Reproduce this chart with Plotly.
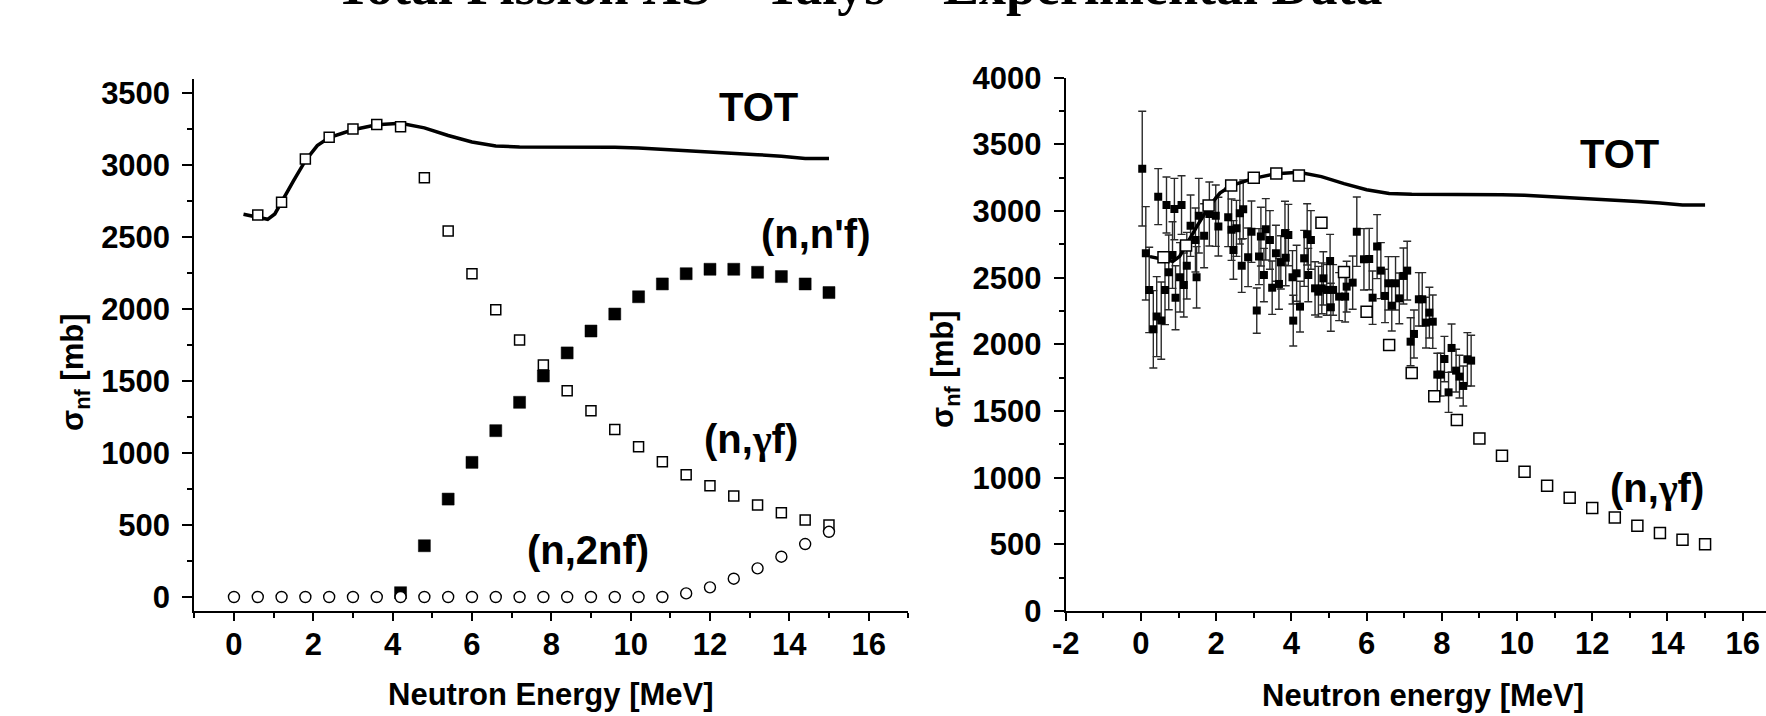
import plotly.graph_objects as go

W, H = 1766, 716

# ---------------- data ----------------
# Talys total fission (line)
tot_E = [0.24, 0.6, 0.85, 1.03, 1.2, 1.5, 1.8, 2.1, 2.4, 3.0, 3.6, 4.2, 4.8, 5.4, 6.0, 6.6,
         7.2, 7.8, 8.4, 9.0, 9.6, 10.2, 10.8, 11.4, 12.0, 12.6, 13.2, 13.8, 14.4, 15.0]
tot_s = [2658, 2635, 2623, 2660, 2745, 2890, 3030, 3135, 3190, 3245, 3280, 3290, 3258, 3205, 3160, 3132,
         3125, 3125, 3125, 3125, 3123, 3118, 3110, 3100, 3092, 3081, 3072, 3060, 3046, 3046]

# (n,gamma f) open squares
ngf_E = [0.6, 1.2, 1.8, 2.4, 3.0, 3.6, 4.2, 4.8, 5.4, 6.0, 6.6, 7.2, 7.8, 8.4, 9.0, 9.6,
         10.2, 10.8, 11.4, 12.0, 12.6, 13.2, 13.8, 14.4, 15.0]
ngf_s = [2653, 2741, 3042, 3192, 3250, 3282, 3266, 2912, 2542, 2245, 1995, 1785, 1611, 1433, 1294, 1164,
         1044, 940, 849, 773, 701, 639, 585, 535, 500]

# (n,n'f) filled squares
nnf_E = [4.2, 4.8, 5.4, 6.0, 6.6, 7.2, 7.8, 8.4, 9.0, 9.6, 10.2, 10.8, 11.4, 12.0, 12.6, 13.2, 13.8, 14.4, 15.0]
nnf_s = [30, 356, 680, 935, 1155, 1352, 1535, 1695, 1847, 1965, 2085, 2174, 2245, 2276, 2276, 2255, 2225, 2174, 2114]

# (n,2nf) open circles
n2nf_E = [0.0, 0.6, 1.2, 1.8, 2.4, 3.0, 3.6, 4.2, 4.8, 5.4, 6.0, 6.6, 7.2, 7.8, 8.4, 9.0, 9.6,
          10.2, 10.8, 11.4, 12.0, 12.6, 13.2, 13.8, 14.4, 15.0]
n2nf_s = [0, 0, 0, 0, 0, 0, 0, 0, 0, 0, 0, 0, 0, 0, 0, 0, 0,
          0, 0, 25, 67, 127, 199, 280, 368, 453]

# experimental data (filled squares with error bars)
exp_E = [0.035, 0.13, 0.22, 0.33, 0.42, 0.46, 0.54, 0.64, 0.68, 0.74, 0.84, 0.89, 0.92, 1.04, 1.08,
         1.14, 1.22, 1.32, 1.45, 1.48, 1.54, 1.68, 1.82, 1.99, 2.06, 2.32, 2.41, 2.46, 2.54, 2.63,
         2.68, 2.72, 2.85, 2.94, 3.08, 3.14, 3.19, 3.27, 3.32, 3.43, 3.49, 3.59, 3.67, 3.72, 3.83,
         3.85, 3.92, 4.03, 4.05, 4.14, 4.23, 4.34, 4.42, 4.45, 4.52, 4.63, 4.72, 4.81, 4.85, 4.94,
         5.03, 5.05, 5.11, 5.27, 5.43, 5.47, 5.63, 5.74, 5.93, 6.07, 6.16, 6.28, 6.38, 6.49, 6.58,
         6.67, 6.77, 6.87, 6.98, 7.08, 7.17, 7.26, 7.39, 7.48, 7.58, 7.67, 7.76, 7.88, 7.97, 8.07,
         8.18, 8.26, 8.38, 8.47, 8.57, 8.68, 8.78]
exp_s = [3318, 2683, 2408, 2113, 2208, 3108, 2178, 2408, 3045, 2540, 2670, 3015, 2350, 2503, 3045,
         2445, 2590, 2890, 2783, 2503, 2965, 2815, 2978, 2965, 2883, 2953, 2860, 2708, 2870, 2983,
         2590, 3013, 2653, 2845, 2253, 2658, 2808, 2520, 2863, 2783, 2425, 2683, 2453, 2615, 2833,
         2650, 2820, 2503, 2178, 2533, 2283, 2645, 2825, 2520, 2783, 2420, 2395, 2420, 2495, 2408,
         2625, 2278, 2408, 2358, 2358, 2433, 2463, 2845, 2638, 2640, 2350, 2733, 2553, 2363, 2458,
         2290, 2458, 2345, 2513, 2553, 2020, 2078, 2338, 2338, 2163, 2238, 2170, 1773, 1773, 1890,
         1640, 1973, 1803, 1758, 1688, 1888, 1878]
exp_err = [430, 350, 320, 290, 300, 210, 290, 260, 210, 280, 250, 230, 240, 260, 220,
           240, 250, 230, 240, 230, 280, 240, 240, 230, 220, 220, 230, 220, 210, 230,
           200, 220, 220, 230, 170, 210, 220, 200, 230, 220, 200, 210, 190, 200, 240,
           210, 230, 200, 190, 210, 190, 210, 230, 200, 220, 200, 190, 190, 200, 190,
           200, 180, 190, 180, 190, 190, 200, 260, 230, 230, 200, 240, 210, 200, 200,
           190, 200, 190, 210, 220, 180, 180, 200, 200, 190, 190, 200, 160, 160, 170,
           150, 180, 160, 160, 150, 200, 190]

left_yticks = [0, 500, 1000, 1500, 2000, 2500, 3000, 3500]
right_yticks = [0, 500, 1000, 1500, 2000, 2500, 3000, 3500, 4000]
left_xticks = [0, 2, 4, 6, 8, 10, 12, 14, 16]
right_xticks = [-2, 0, 2, 4, 6, 8, 10, 12, 14, 16]

# ---------------- figure ----------------
FONT = "Liberation Sans, Arial, sans-serif"
fig = go.Figure()

# left panel
fig.add_trace(go.Scatter(x=tot_E, y=tot_s, mode="lines", line=dict(color="black", width=3.5),
                         xaxis="x", yaxis="y", showlegend=False))
fig.add_trace(go.Scatter(x=ngf_E, y=ngf_s, mode="markers", xaxis="x", yaxis="y", showlegend=False,
                         marker=dict(symbol="square", size=10, color="white",
                                     line=dict(color="black", width=1.5))))
fig.add_trace(go.Scatter(x=nnf_E, y=nnf_s, mode="markers", xaxis="x", yaxis="y", showlegend=False,
                         marker=dict(symbol="square", size=12, color="black",
                                     line=dict(color="black", width=0.5))))
fig.add_trace(go.Scatter(x=n2nf_E, y=n2nf_s, mode="markers", xaxis="x", yaxis="y", showlegend=False,
                         marker=dict(symbol="circle", size=11, color="white",
                                     line=dict(color="black", width=1.4))))

# right panel
fig.add_trace(go.Scatter(x=exp_E, y=exp_s, mode="markers", xaxis="x2", yaxis="y2", showlegend=False,
                         error_y=dict(type="data", array=exp_err, visible=True, color="#2a2a2a",
                                      thickness=1.4, width=4),
                         marker=dict(symbol="square", size=8, color="black")))
fig.add_trace(go.Scatter(x=tot_E, y=tot_s, mode="lines", line=dict(color="black", width=3.5),
                         xaxis="x2", yaxis="y2", showlegend=False))
fig.add_trace(go.Scatter(x=ngf_E, y=ngf_s, mode="markers", xaxis="x2", yaxis="y2", showlegend=False,
                         marker=dict(symbol="square", size=11, color="white",
                                     line=dict(color="black", width=1.5))))

def px_x(p):
    return p / W

def px_y(p):
    return 1 - p / H

tickfont = dict(family=FONT, size=31, color="black", weight="bold")

def axis(domain, rng, tickvals, ticklen, minor_dtick, minor_len, anchor, standoff, ticktext=None):
    d = dict(domain=domain, range=rng, showline=True, linecolor="black", linewidth=2,
             ticks="outside", ticklen=ticklen, tickwidth=2, tickcolor="black",
             tickvals=tickvals, showgrid=False, zeroline=False, tickfont=tickfont,
             anchor=anchor, fixedrange=True, automargin=False, ticklabelstandoff=standoff,
             minor=dict(ticks="outside", ticklen=minor_len, tickwidth=2, tickcolor="black",
                        dtick=minor_dtick, showgrid=False))
    if ticktext is not None:
        d["ticktext"] = ticktext
    return d

layout = dict(
    width=W, height=H, autosize=False,
    margin=dict(l=0, r=0, t=0, b=0, pad=0, autoexpand=False),
    paper_bgcolor="white", plot_bgcolor="white",
    xaxis=axis([px_x(194.3), px_x(908.3)], [-1, 17], left_xticks, 8, 1, 5, "y", -4),
    yaxis=axis([px_y(611.4), px_y(78.6)], [-100, 3600], left_yticks, 10, 250, 5, "x", 6),
    xaxis2=axis([px_x(1065.7), 1.0], [-2, 16.62], right_xticks, 8, 1, 5, "y2", -4,
                ticktext=[str(v) for v in right_xticks]),
    yaxis2=axis([px_y(611.0), px_y(77.7)], [0, 4000], right_yticks, 10, 250, 5, "x2", 6),
)
fig.update_layout(**layout)

def ann(text, x, y, size, angle=0, family=FONT, weight="bold"):
    fig.add_annotation(text=text, x=px_x(x), y=px_y(y), xref="paper", yref="paper",
                       showarrow=False, xanchor="center", yanchor="middle", textangle=angle,
                       font=dict(family=family, size=size, color="black", weight=weight))

GAMMA = "<span style='font-family:Liberation Serif'>γ</span>"

# chart title (cut off at the top of the picture)
ann("Total Fission XS – Talys + Experimental Data", 858, -14, 54,
    family="Liberation Serif, Times New Roman, serif")

# curve labels
ann("TOT", 758, 107, 40)
ann("(n,n'f)", 815, 234, 40)
ann("(n," + GAMMA + "f)", 751, 439, 40)
ann("(n,2nf)", 588, 550, 40)
ann("TOT", 1619, 154, 40)
ann("(n," + GAMMA + "f)", 1657, 489, 40)

# axis titles
ann("Neutron Energy [MeV]", 551, 694, 31)
ann("Neutron energy [MeV]", 1423, 695, 31)
ann("σ<sub>nf</sub> [mb]", 75, 373, 31, angle=-90)
ann("σ<sub>nf</sub> [mb]", 945, 369, 31, angle=-90)

fig.write_html("out.html")
